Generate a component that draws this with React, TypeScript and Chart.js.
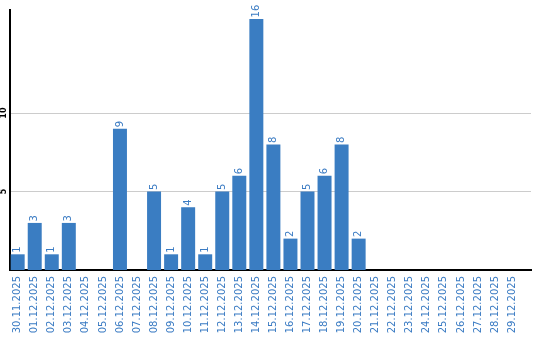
import React, { useEffect, useRef } from "react";
import { Chart, registerables } from "chart.js";

Chart.register(...registerables);

const dates = [
  "30.11.2025", "01.12.2025", "02.12.2025", "03.12.2025", "04.12.2025",
  "05.12.2025", "06.12.2025", "07.12.2025", "08.12.2025", "09.12.2025",
  "10.12.2025", "11.12.2025", "12.12.2025", "13.12.2025", "14.12.2025",
  "15.12.2025", "16.12.2025", "17.12.2025", "18.12.2025", "19.12.2025",
  "20.12.2025", "21.12.2025", "22.12.2025", "23.12.2025", "24.12.2025",
  "25.12.2025", "26.12.2025", "27.12.2025", "28.12.2025", "29.12.2025",
];
const counts = [1, 3, 1, 3, 0, 0, 9, 0, 5, 1, 4, 1, 5, 6, 16, 8, 2, 5, 6, 8, 2, 0, 0, 0, 0, 0, 0, 0, 0, 0];
const yTicks = [5, 10];
const yMax = 16.57;
const xMin = -0.45;
const xMax = 30.11;

const BAR_COLOR = "#3a7dc2";
const TEXT_COLOR = "#3a7bc3";
const FONT = "'DejaVu Sans', Verdana, sans-serif";

const valueLabels = {
  id: "valueLabels",
  afterDatasetsDraw(chart: any) {
    const ctx = chart.ctx;
    const meta = chart.getDatasetMeta(0);
    ctx.save();
    ctx.font = `10px ${FONT}`;
    ctx.fillStyle = TEXT_COLOR;
    ctx.textAlign = "left";
    ctx.textBaseline = "middle";
    meta.data.forEach((bar: any, i: number) => {
      const v = counts[i];
      if (!v) return;
      ctx.save();
      ctx.translate(bar.x, bar.y - 1.5);
      ctx.rotate(-Math.PI / 2);
      ctx.fillText(String(v), 0, 0);
      ctx.restore();
    });
    ctx.restore();
  },
};

export default function App() {
  const ref = useRef<HTMLCanvasElement>(null);
  useEffect(() => {
    document.body.style.margin = "0";
    const chart = new Chart(ref.current!, {
      type: "bar",
      data: {
        datasets: [
          {
            data: counts.map((v, i) => ({ x: i, y: v })),
            backgroundColor: BAR_COLOR,
            borderWidth: 0,
            categoryPercentage: 1,
            barPercentage: 0.82,
          },
        ],
      },
      options: {
        responsive: false,
        animation: false,
        events: [],
        layout: { padding: { top: 10, right: 9, left: 0, bottom: 0 } },
        plugins: { legend: { display: false }, tooltip: { enabled: false }, title: { display: false } },
        scales: {
          x: {
            type: "linear",
            offset: false,
            min: xMin,
            max: xMax,
            afterBuildTicks: (s: any) => {
              s.ticks = dates.map((_, i) => ({ value: i }));
            },
            afterFit: (s: any) => {
              s.height = 70;
            },
            ticks: {
              callback: (v: any) => dates[v] ?? "",
              font: { family: FONT, size: 10 },
              color: TEXT_COLOR,
              minRotation: 90,
              maxRotation: 90,
              padding: 6,
              autoSkip: false,
            },
            grid: { display: false, drawTicks: false, offset: false },
            border: { display: true, color: "#000", width: 2 },
          },
          y: {
            type: "linear",
            min: 0,
            max: yMax,
            afterBuildTicks: (s: any) => {
              s.ticks = yTicks.map((v) => ({ value: v }));
            },
            afterCalculateLabelRotation: (s: any) => {
              s.labelRotation = 90;
            },
            afterFit: (s: any) => {
              s.width = 10;
            },
            ticks: {
              font: { family: FONT, size: 8, weight: "bold" },
              color: "#000",
              crossAlign: "center",
              padding: 1,
              autoSkip: false,
            },
            grid: { color: "#cccccc", lineWidth: 1, drawTicks: false },
            border: { display: true, color: "#000", width: 2 },
          },
        },
      },
      plugins: [valueLabels],
    } as any);
    return () => chart.destroy();
  }, []);
  return (
    <div style={{ position: "relative", width: 540, height: 340 }}>
      <canvas ref={ref} width={540} height={340} style={{ display: "block" }} />
    </div>
  );
}
